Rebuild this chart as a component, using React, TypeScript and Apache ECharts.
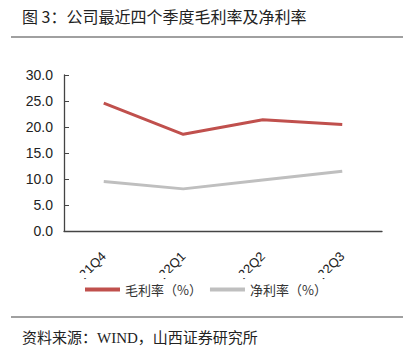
import React, { useEffect, useRef } from "react";
import * as echarts from "echarts";

const categories = ["21Q4", "22Q1", "22Q2", "22Q3"];
const grossMargin = [24.6, 18.6, 21.4, 20.5];
const netMargin = [9.5, 8.1, 9.8, 11.5];
const seriesNames = ["毛利率（%）", "净利率（%）"];
const titleText = "图 3：公司最近四个季度毛利率及净利率";
const sourceText = "资料来源：WIND，山西证券研究所";

export default function App() {
  const ref = useRef<HTMLDivElement>(null);
  useEffect(() => {
    if (!ref.current) return;
    const chart = echarts.init(ref.current, null, { renderer: "svg" });
    const cjk = "'Noto Sans CJK SC', sans-serif";
    const num = "'Liberation Sans', Arial, sans-serif";
    chart.setOption({
      animation: false,
      backgroundColor: "#ffffff",
      grid: { left: 64, right: 32, top: 75, bottom: 126, containLabel: false },
      legend: {
        left: 80,
        top: 278,
        itemWidth: 35,
        itemHeight: 4,
        itemGap: 8,
        icon: "rect",
        textStyle: { fontFamily: cjk, fontSize: 13, color: "#333" },
        data: seriesNames,
      },
      xAxis: {
        type: "category",
        data: categories,
        boundaryGap: true,
        axisLine: { lineStyle: { color: "#444", width: 1.3 } },
        axisTick: { inside: true, length: 5, lineStyle: { color: "#444" } },
        axisLabel: {
          rotate: 45,
          fontFamily: num,
          fontSize: 13,
          color: "#222",
          margin: 23,
        },
      },
      yAxis: {
        type: "value",
        min: 0,
        max: 30,
        interval: 5,
        splitLine: { show: false },
        axisLine: { show: true, lineStyle: { color: "#444", width: 1.3 } },
        axisTick: { show: true, inside: true, length: 5, lineStyle: { color: "#444" } },
        axisLabel: {
          formatter: (v: number) => v.toFixed(1),
          fontFamily: num,
          fontSize: 14,
          color: "#222",
          margin: 11,
        },
      },
      series: [
        {
          name: seriesNames[0],
          type: "line",
          data: grossMargin,
          showSymbol: false,
          symbol: "none",
          lineStyle: { color: "#C0504D", width: 3 },
          itemStyle: { color: "#C0504D" },
        },
        {
          name: seriesNames[1],
          type: "line",
          data: netMargin,
          showSymbol: false,
          symbol: "none",
          lineStyle: { color: "#BFBFBF", width: 3 },
          itemStyle: { color: "#BFBFBF" },
        },
      ],
      graphic: [
        {
          type: "text",
          left: 22,
          top: 8,
          style: { text: titleText, font: `16px ${cjk}`, fill: "#222" },
        },
        {
          type: "line",
          shape: { x1: 11, y1: 37, x2: 403, y2: 37 },
          style: { stroke: "#808080", lineWidth: 1.5 },
        },
        {
          type: "rect",
          z: 100,
          shape: { x: 50, y: 273, width: 350, height: 5 },
          style: { fill: "#ffffff" },
        },
        {
          type: "line",
          shape: { x1: 11, y1: 317, x2: 403, y2: 317 },
          style: { stroke: "#808080", lineWidth: 1.5 },
        },
        {
          type: "text",
          left: 22,
          top: 330,
          style: {
            text: sourceText,
            font: `15px 'Liberation Serif', 'Noto Sans CJK SC', serif`,
            fill: "#222",
          },
        },
      ],
    });
    return () => chart.dispose();
  }, []);
  return <div ref={ref} style={{ width: 414, height: 357, position: "absolute", left: 0, top: 0 }} />;
}
